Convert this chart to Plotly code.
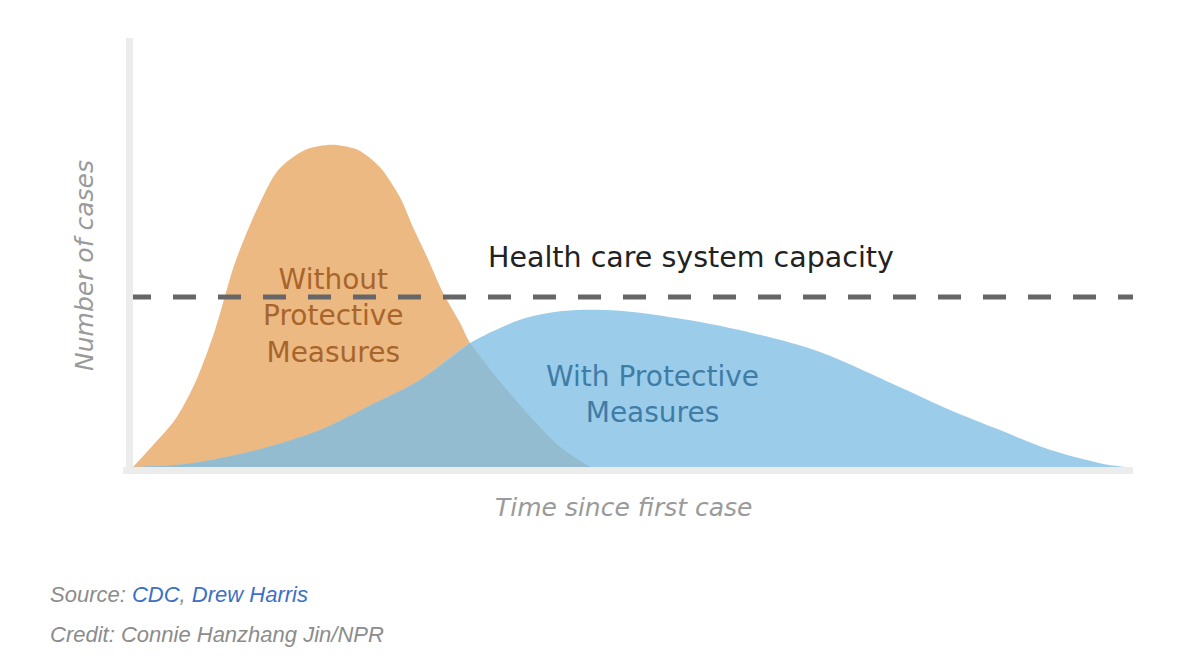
import plotly.graph_objects as go

# ---- data (x: time units 0..100, y: cases units 0..100) ----
without_x = [0, 2.2, 4.2, 6.2, 8.2, 10.2, 12.5, 14.5, 17.2, 19.9, 22.5, 24.7, 26.7, 28.0, 29.4, 31.0, 32.7, 33.7, 36.0, 39.4, 42.7, 45.7]
without_y = [0, 5.6, 11.0, 19.6, 31.9, 47.6, 60.6, 69.2, 73.9, 75.1, 73.9, 69.9, 62.9, 55.9, 49.0, 40.6, 33.6, 28.9, 21.9, 12.6, 4.7, 0]

with_x = [0, 5.9, 12.5, 18.7, 24.2, 28.7, 33.7, 38.7, 41.5, 44.4, 48.7, 55.4, 62.0, 68.7, 76.7, 81.7, 86.7, 91.7, 96.7, 99.2]
with_y = [0, 0.9, 4.0, 8.6, 14.9, 20.3, 28.9, 34.3, 35.9, 36.6, 36.4, 34.3, 31.2, 26.8, 18.6, 13.3, 8.6, 4.0, 0.9, 0]

capacity = 39.6
crossing_x = 33.7

ORANGE = "#EDB982"
BLUE = "#9BCDEB"
OVERLAP = "#94BCD1"

fig = go.Figure()

fig.add_trace(go.Scatter(x=without_x, y=without_y, fill="tozeroy", fillcolor=ORANGE,
                         mode="lines", line=dict(width=0, shape="spline", smoothing=0.8),
                         hoverinfo="skip", showlegend=False))
fig.add_trace(go.Scatter(x=with_x, y=with_y, fill="tozeroy", fillcolor=BLUE,
                         mode="lines", line=dict(width=0, shape="spline", smoothing=0.9),
                         hoverinfo="skip", showlegend=False))

# overlap: under the blue curve left of the crossing, under orange curve right of it
ov_left_x = [x for x in with_x if x <= crossing_x]
ov_left_y = [y for x, y in zip(with_x, with_y) if x <= crossing_x]
ov_right_x = [x for x in without_x if x >= crossing_x]
ov_right_y = [y for x, y in zip(without_x, without_y) if x >= crossing_x]
for xs, ys, sm in ((ov_left_x, ov_left_y, 0.9), (ov_right_x, ov_right_y, 0.8)):
    fig.add_trace(go.Scatter(x=xs, y=ys, fill="tozeroy", fillcolor=OVERLAP,
                             mode="lines", line=dict(width=0, shape="spline", smoothing=sm),
                             hoverinfo="skip", showlegend=False))

# capacity dashed line
fig.add_trace(go.Scatter(x=[-0.5, 100], y=[capacity, capacity], mode="lines",
                         line=dict(color="#666666", width=5, dash="23px,22px"),
                         hoverinfo="skip", showlegend=False))

W, H = 1189, 661
ML, MR, MT, MB = 133, 56, 38, 194
PW, PH = W - ML - MR, H - MT - MB

shapes = [
    dict(type="rect", xref="paper", yref="paper", x0=-7 / PW, x1=0, y0=-7 / PH, y1=1,
         fillcolor="#ECECEC", line=dict(width=0), layer="below"),
    dict(type="rect", xref="paper", yref="paper", x0=-10 / PW, x1=1, y0=-7 / PH, y1=0,
         fillcolor="#ECECEC", line=dict(width=0), layer="below"),
]

MAIN = "DejaVu Sans"
annotations = []

def ann(text, x, y, size, color, xref="x", yref="y", family=MAIN, xanchor="center", textangle=0):
    annotations.append(dict(text=text, x=x, y=y, xref=xref, yref=yref, showarrow=False,
                            xanchor=xanchor, yanchor="middle", textangle=textangle,
                            borderpad=0,
                            font=dict(family=family, size=size, color=color)))

ann("Health care system capacity", 55.8, 48.8, 28.5, "#222222")
ann("Without<br>Protective<br>Measures", 20.0, 35.3, 28, "#A8652B")
ann("With Protective<br>Measures", 51.9, 16.8, 28, "#3F7CA6")

ann("<i>Time since first case</i>", (623 - ML) / PW, (467 - 507) / PH, 25, "#9A9A9A",
    xref="paper", yref="paper")
ann("<i>Number of cases</i>", (84 - ML) / PW, (467 - 266) / PH, 25, "#9A9A9A",
    xref="paper", yref="paper", textangle=-90)

SRC = "Liberation Sans"
ann("<i>Source: <span style='color:#3D6FC4'>CDC</span>, <span style='color:#3D6FC4'>Drew Harris</span></i>",
    (49 - ML) / PW, (467 - 594) / PH, 22, "#8C8C8C", xref="paper", yref="paper",
    family=SRC, xanchor="left")
ann("<i>Credit: Connie Hanzhang Jin/NPR</i>",
    (49 - ML) / PW, (467 - 634) / PH, 22, "#8C8C8C", xref="paper", yref="paper",
    family=SRC, xanchor="left")

fig.update_layout(
    width=W, height=H,
    margin=dict(l=ML, r=MR, t=MT, b=MB),
    paper_bgcolor="white", plot_bgcolor="white",
    xaxis=dict(range=[0, 100], visible=False, fixedrange=True),
    yaxis=dict(range=[0, 100], visible=False, fixedrange=True),
    shapes=shapes, annotations=annotations,
)

fig.write_html("out.html", config={"displayModeBar": False},
               post_script="document.body.style.margin='0';document.body.style.overflow='hidden';")
